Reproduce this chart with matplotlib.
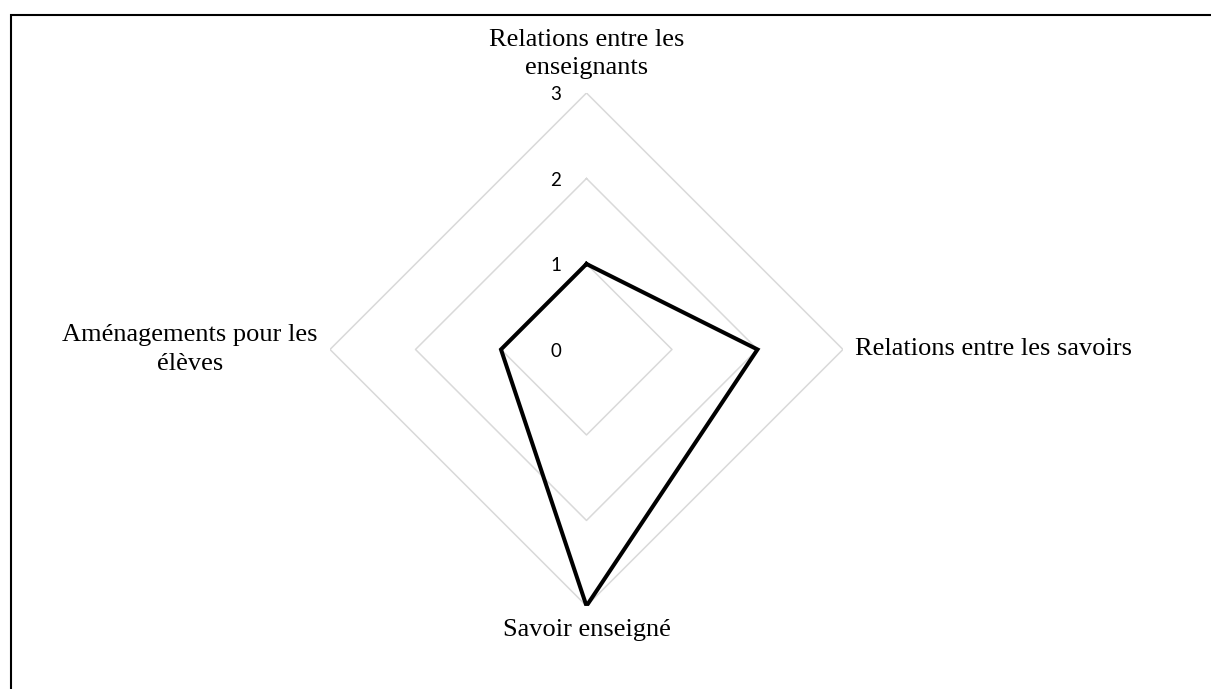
import numpy as np
import matplotlib
matplotlib.use("Agg")
import matplotlib.pyplot as plt
from matplotlib.patches import Rectangle

categories = ["Relations entre les\nenseignants", "Relations entre les savoirs",
              "Savoir enseigné", "Aménagements pour les\nélèves"]
values = [1, 2, 3, 1]
levels = [0, 1, 2, 3]

fig = plt.figure(figsize=(12.11, 6.89), dpi=100)
ax = fig.add_axes([0.2725, 0.1205, 0.4236, 0.7446], projection="polar")
ax.set_theta_offset(np.pi / 2)
ax.set_theta_direction(-1)
ax.set_ylim(0, 3)
ax.grid(False)
ax.spines["polar"].set_visible(False)
ax.set_xticks([])
ax.set_yticks([])
ax.patch.set_alpha(0)

n = len(categories)
theta = np.arange(n) * 2 * np.pi / n
theta_c = np.append(theta, theta[0])

# diamond grid
for lv in levels[1:]:
    ax.plot(theta_c, [lv] * (n + 1), color="#D9D9D9", lw=1.1, zorder=1)

vals = np.append(values, values[0])
ax.plot(theta_c, vals, color="black", lw=2.9, zorder=3, solid_joinstyle="miter")

# radial tick labels
for lv in levels:
    ax.annotate(str(lv), xy=(0, lv), xytext=(-31, -2), textcoords="offset pixels",
                ha="center", va="center", fontsize=13.5, family="Lato")

# category labels
serif = dict(fontsize=19, family="Liberation Serif", multialignment="center")
offsets = [((0, 14), "center", "bottom"), ((12, 0), "left", "center"),
           ((0, -13), "center", "top"), ((-12, 0), "right", "center")]
for t, lab, (off, ha, va) in zip(theta, categories, offsets):
    ax.annotate(lab, xy=(t, 3), xytext=off, textcoords="offset pixels",
                ha=ha, va=va, linespacing=1.38, **serif)

# frame (only left and top visible)
fig.add_artist(Rectangle((11 / 1211, -0.1), 2, (689 - 15.5) / 689 + 0.1,
                         transform=fig.transFigure, fill=False, lw=1.5,
                         edgecolor="black"))

fig.savefig("out.png", dpi=100)
